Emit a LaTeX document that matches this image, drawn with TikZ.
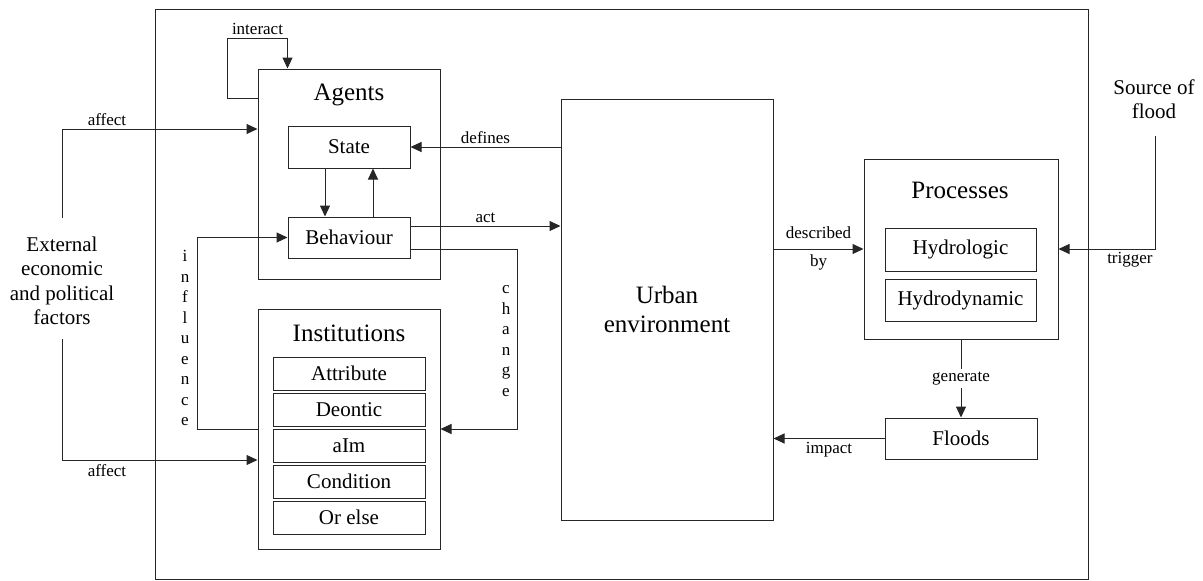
\documentclass[tikz,border=0pt]{standalone}
\usepackage{fontspec}
\setmainfont{Liberation Serif}
\usetikzlibrary{arrows.meta}
\begin{document}
\begin{tikzpicture}[x=1pt,y=-1pt,
  every node/.style={inner sep=0pt},
  box/.style={draw=black!85, line width=1pt, inner sep=0pt},
  arr/.style={draw=black!85, line width=1pt, -{Triangle[length=11pt,width=10pt]}},
  ln/.style={draw=black!85, line width=1pt},
  title/.style={font=\fontsize{25}{29}\selectfont},
  item/.style={font=\fontsize{21}{24.5}\selectfont},
  lbl/.style={font=\fontsize{17}{20}\selectfont, inner sep=3pt},
  vert/.style={font=\fontsize{17}{20.5}\selectfont, align=center},
]
\useasboundingbox (0,0) rectangle (1203,581);

% system boundary
\node[box, minimum width=933pt, minimum height=570pt] (frame) at (621.5,294) {};

% agents
\node[box, minimum width=182pt, minimum height=210pt] (agents) at (349,174) {};
\node[title] (agentsT) at (349,95) {Agents};
\node[box, item, minimum width=122pt, minimum height=42pt] (state) at (349,147) {State};
\node[box, item, minimum width=122pt, minimum height=41pt] (behav) at (349,237.5) {Behaviour};

% institutions
\node[box, minimum width=182pt, minimum height=240pt] (inst) at (349,429) {};
\node[title] (instT) at (349,333) {Institutions};
\foreach \t [count=\i from 0] in {Attribute,Deontic,aIm,Condition,Or else}
  \node[box, item, minimum width=152pt, minimum height=33pt] (row\i) at (349,373.5+36*\i) {\t};

% urban environment
\node[box, title, align=center, minimum width=212pt, minimum height=421pt] (urban) at (667,309.5) {Urban\\environment};

% processes
\node[box, minimum width=194pt, minimum height=180pt] (proc) at (961,249) {};
\node[title] (procT) at (960,190) {Processes};
\node[box, item, minimum width=151pt, minimum height=43pt] (hydro) at (960.5,249.5) {Hydrologic};
\node[box, item, minimum width=151pt, minimum height=42pt] (hydrod) at (960.5,300) {Hydrodynamic};
\node[box, item, minimum width=152pt, minimum height=41pt] (floods) at (961,438.5) {Floods};

% external drivers
\node[item, align=center] (ext) at (62,281) {External\\economic\\and political\\factors};
\node[item, align=center] (src) at (1154,99) {Source of\\flood};
\coordinate (extTop) at (62,218);
\coordinate (extBot) at (62,339);
\coordinate (srcBot) at (1155,136);

% agents interact with each other
\draw[arr] (agents.north west) ++(0,30) -- ++(-30,0) -- ++(0,-60)
  -- node[lbl, above] {interact} ++(60,0) -- ++(0,30);

% state and behaviour
\draw[arr] ([xshift=-24pt]state.south) -- ([xshift=-24pt]behav.north);
\draw[arr] ([xshift=24pt]behav.north) -- ([xshift=24pt]state.south);

% external factors
\draw[arr] (extTop) |- node[lbl, above, pos=0.615] {affect} ([yshift=45pt]agents.west);
\draw[arr] (extBot) |- node[lbl, below=1pt, pos=0.615] {affect} ([yshift=-31pt]inst.west);

% urban environment and agents
\draw[arr] (urban.west |- state.east) -- node[lbl, above] {defines} (state.east);
\coordinate (actS) at ([yshift=11.5pt]behav.east);
\draw[arr] (actS) -- node[lbl, above] {act} (actS -| urban.west);

% agents and institutions
\coordinate (chS) at ([yshift=-11.5pt]behav.east);
\draw[arr] (chS) -- ++(107,0) |- (inst.east);
\draw[arr] (inst.west) -- ++(-60,0) |- (behav.west);
\node[vert] (chL) at (506,341) {c\\h\\a\\n\\g\\e};
\node[vert] (inL) at (185,338) {i\\n\\f\\l\\u\\e\\n\\c\\e};

% urban environment and processes
\draw[arr] (urban.east |- proc.west) -- node[lbl, above=7pt] {described}
  node[lbl, below=2pt] {by} (proc.west);
\draw[arr] (srcBot) |- node[lbl, below, pos=0.63] {trigger} (proc.east);
\draw[arr] (proc.south) -- node[lbl, fill=white, inner sep=3pt] {generate} (floods.north);
\draw[arr] (floods.west) -- node[lbl, below] {impact} (floods.west -| urban.east);
\end{tikzpicture}
\end{document}
